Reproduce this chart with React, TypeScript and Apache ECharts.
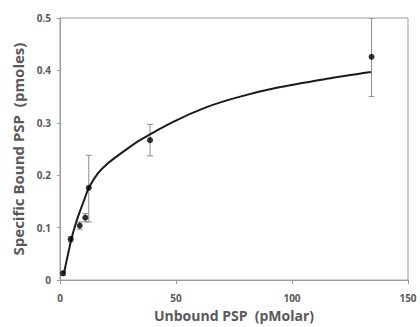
import React, { useEffect, useRef } from "react";
import * as echarts from "echarts";

const xTicks = [0, 50, 100, 150];
const yTicks = [0, 0.1, 0.2, 0.3, 0.4, 0.5];

const pointX = [1.3, 4.6, 8.5, 10.9, 12.4, 38.8, 134.3];
const pointY = [0.013, 0.078, 0.104, 0.119, 0.176, 0.267, 0.426];
const errLow = [0.009, 0.073, 0.097, 0.111, 0.111, 0.237, 0.35];
const errHigh = [0.017, 0.083, 0.111, 0.127, 0.238, 0.297, 0.5];

const curveX = [1.7, 3.1, 4.9, 6.6, 8.5, 10.6, 12.4, 16.4, 20.7, 27.9, 34.5, 48.8, 63.2, 77.6, 93.4, 115, 134];
const curveY = [0.013, 0.042, 0.078, 0.105, 0.13, 0.155, 0.176, 0.204, 0.223, 0.247, 0.267, 0.302, 0.33, 0.35, 0.367, 0.384, 0.397];

const FONT = "'Open Sans', 'Noto Sans', sans-serif";
const GRAY = "#595959";

export default function App() {
  const ref = useRef<HTMLDivElement>(null);
  useEffect(() => {
    if (!ref.current) return;
    const chart = echarts.init(ref.current, undefined, { renderer: "svg" });
    const points = pointX.map((x, i) => [x, pointY[i]]);
    const errs = pointX.map((x, i) => [x, errLow[i], errHigh[i]]);
    const curve = curveX.map((x, i) => [x, curveY[i]]);
    chart.setOption({
      animation: false,
      backgroundColor: "#ffffff",
      grid: {
        left: 60,
        right: 12,
        top: 18,
        bottom: 45,
        show: true,
        borderColor: "#9a9a9a",
        borderWidth: 1,
      },
      xAxis: {
        type: "value",
        min: 0,
        max: 150,
        interval: 50,
        name: "Unbound PSP  (pMolar)",
        nameLocation: "middle",
        nameGap: 25,
        nameTextStyle: { fontFamily: FONT, fontWeight: "bold", fontSize: 14, color: GRAY },
        axisLine: { show: true, lineStyle: { color: "#9a9a9a" } },
        axisTick: { show: true, length: 4, lineStyle: { color: "#9a9a9a" } },
        splitLine: { show: false },
        axisLabel: {
          fontFamily: FONT,
          fontWeight: "bold",
          fontSize: 10,
          color: GRAY,
          margin: 13,
          formatter: (v: number) => (xTicks.includes(v) ? String(v) : ""),
        },
      },
      yAxis: {
        type: "value",
        min: 0,
        max: 0.5,
        interval: 0.1,
        name: "Specific Bound PSP  (pmoles)",
        nameLocation: "middle",
        nameGap: 35,
        nameRotate: 90,
        nameTextStyle: { fontFamily: FONT, fontWeight: "bold", fontSize: 15, color: GRAY },
        axisLine: { show: true, lineStyle: { color: "#9a9a9a" } },
        axisTick: { show: true, length: 3, lineStyle: { color: "#9a9a9a" } },
        splitLine: { show: false },
        axisLabel: {
          fontFamily: FONT,
          fontWeight: "bold",
          fontSize: 10,
          color: GRAY,
          margin: 9,
          formatter: (v: number) => {
            const t = yTicks.find((y) => Math.abs(y - v) < 1e-9);
            return t === undefined ? "" : String(t);
          },
        },
      },
      series: [
        {
          type: "custom",
          data: errs,
          clip: true,
          z: 2,
          renderItem: (params: any, api: any) => {
            const x = api.value(0);
            const lo = api.coord([x, api.value(1)]);
            const hi = api.coord([x, api.value(2)]);
            const cap = 3;
            const style = { stroke: "#8c8c8c", lineWidth: 1 };
            return {
              type: "group",
              children: [
                { type: "line", shape: { x1: lo[0], y1: lo[1], x2: hi[0], y2: hi[1] }, style },
                { type: "line", shape: { x1: lo[0] - cap, y1: lo[1], x2: lo[0] + cap, y2: lo[1] }, style },
                { type: "line", shape: { x1: hi[0] - cap, y1: hi[1], x2: hi[0] + cap, y2: hi[1] }, style },
              ],
            };
          },
        },
        {
          type: "line",
          data: curve,
          smooth: 0.3,
          showSymbol: false,
          lineStyle: { color: "#1a1a1a", width: 2 },
          z: 3,
        },
        {
          type: "scatter",
          data: points,
          symbol: "circle",
          symbolSize: 6,
          itemStyle: { color: "#000000" },
          z: 4,
        },
      ],
    });
    return () => chart.dispose();
  }, []);
  return (
    <div
      ref={ref}
      style={{ position: "fixed", left: 0, top: 0, width: 420, height: 327 }}
    />
  );
}
